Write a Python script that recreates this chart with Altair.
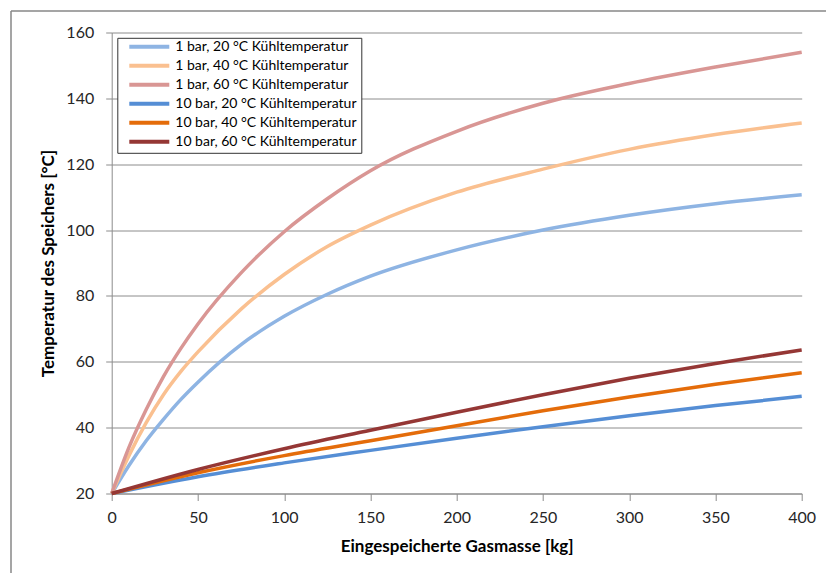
import altair as alt
import pandas as pd

# Eingespeicherte Gasmasse [kg]
masse_1bar = [0, 10, 20, 30, 40, 50, 75, 100, 125, 150, 200, 250, 300, 350, 400]
masse_10bar = [0, 50, 100, 150, 200, 250, 300, 350, 400]

# Temperatur des Speichers [°C]
t_1bar_20 = [20, 28.5, 36, 42.5, 48.5, 53.8, 65.2, 73.8, 80.5, 86, 94, 100, 104.5, 108, 110.7]
t_1bar_40 = [20, 31.5, 41.5, 50, 57, 63, 76, 86.5, 95, 101.5, 111.5, 118.5, 124.5, 129, 132.5]
t_1bar_60 = [20, 34, 45.5, 55.5, 64, 71.5, 87, 99.5, 109.5, 118, 130, 138.5, 144.5, 149.5, 154]
t_10bar_20 = [20, 25.1, 29.3, 33.1, 36.8, 40.3, 43.6, 46.7, 49.5]
t_10bar_40 = [20, 26.3, 31.5, 36.0, 40.6, 45.1, 49.3, 53.2, 56.7]
t_10bar_60 = [20, 27.3, 33.6, 39.2, 44.7, 50.0, 55.0, 59.5, 63.6]

series_names = [
    "1 bar, 20 °C Kühltemperatur",
    "1 bar, 40 °C Kühltemperatur",
    "1 bar, 60 °C Kühltemperatur",
    "10 bar, 20 °C Kühltemperatur",
    "10 bar, 40 °C Kühltemperatur",
    "10 bar, 60 °C Kühltemperatur",
]
series_colors = ["#8EB4E3", "#FAC090", "#D99694", "#558ED5", "#E46C0A", "#953735"]

x_ticks = [0, 50, 100, 150, 200, 250, 300, 350, 400]
y_ticks = [20, 40, 60, 80, 100, 120, 140, 160]

rows = []
for name, xs, ys in [
    (series_names[0], masse_1bar, t_1bar_20),
    (series_names[1], masse_1bar, t_1bar_40),
    (series_names[2], masse_1bar, t_1bar_60),
    (series_names[3], masse_10bar, t_10bar_20),
    (series_names[4], masse_10bar, t_10bar_40),
    (series_names[5], masse_10bar, t_10bar_60),
]:
    for xv, yv in zip(xs, ys):
        rows.append({"masse": xv, "temp": yv, "serie": name})
df = pd.DataFrame(rows)

FONT = "Lato"
GRAY = "#8c8c8c"

lines = alt.Chart(df).mark_line(strokeWidth=3.5, interpolate="monotone").encode(
    x=alt.X(
        "masse:Q",
        title="Eingespeicherte Gasmasse [kg]",
        scale=alt.Scale(domain=[0, 400], nice=False),
        axis=alt.Axis(values=x_ticks, grid=False, tickSize=7, labelPadding=9,
                      titlePadding=13, labelFlush=False),
    ),
    y=alt.Y(
        "temp:Q",
        title="Temperatur des Speichers [°C]",
        scale=alt.Scale(domain=[20, 160], nice=False),
        axis=alt.Axis(values=y_ticks, grid=True, tickSize=6, labelPadding=12, titlePadding=8),
    ),
    color=alt.Color(
        "serie:N",
        sort=series_names,
        scale=alt.Scale(domain=series_names, range=series_colors),
        legend=alt.Legend(
            title=None,
            orient="none",
            legendX=5.6,
            legendY=5.3,
            symbolType="stroke",
            symbolSize=1600,
            symbolStrokeWidth=4,
            clipHeight=10,
            rowPadding=5,
            padding=4,
            symbolOffset=6,
            labelOffset=4,
            labelFontSize=14,
            labelFont=FONT,
            labelColor="#000000",
            labelLimit=400,
            strokeColor="#333333",
            fillColor="#ffffff",
        ),
    ),
)

frame_top = alt.Chart(alt.Data(values=[{}])).mark_rule(
    color="#878787", strokeWidth=1.5, clip=False
).encode(x=alt.value(-100.7), x2=alt.value(720), y=alt.value(-21.5))
frame_left = alt.Chart(alt.Data(values=[{}])).mark_rule(
    color="#878787", strokeWidth=1.5, clip=False
).encode(x=alt.value(-100.7), y=alt.value(-21.5), y2=alt.value(545))

chart = (
    alt.layer(frame_top, frame_left, lines)
    .properties(
        width=690,
        height=461,
        autosize=alt.AutoSizeParams(type="none"),
        padding={"left": 111.7, "top": 32.5, "right": 24.3, "bottom": 79.5},
        background="#ffffff",
    )
    .configure_view(strokeWidth=0)
    .configure_axis(
        domainColor=GRAY,
        tickColor=GRAY,
        gridColor=GRAY,
        gridWidth=1,
        labelFont=FONT,
        labelFontSize=16,
        labelColor="#262626",
        titleFont=FONT,
        titleFontSize=17,
        titleFontWeight="bold",
        titleColor="#000000",
    )
)

chart.save("out.html", embed_options={"renderer": "svg", "actions": False})
